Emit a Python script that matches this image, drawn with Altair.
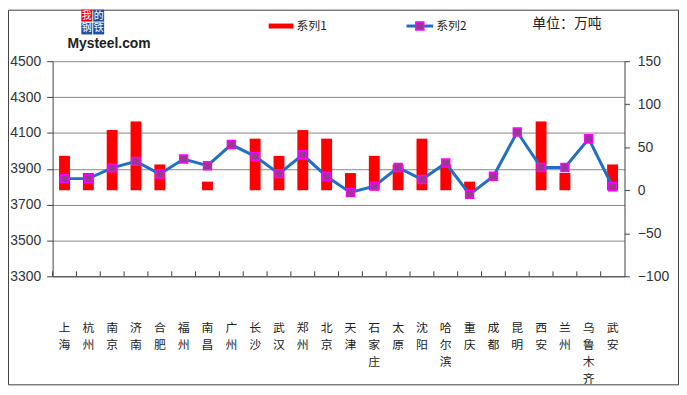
import altair as alt
import pandas as pd

cities = ["上海", "杭州", "南京", "济南", "合肥", "福州", "南昌", "广州", "长沙", "武汉",
          "郑州", "北京", "天津", "石家庄", "太原", "沈阳", "哈尔滨", "重庆", "成都", "昆明",
          "西安", "兰州", "乌鲁木齐", "武安"]
series1 = [40, 20, 70, 80, 30, 0, 10, 0, 60, 40,
           70, 60, 20, 40, 30, 60, 30, 10, 0, 0,
           80, 20, 0, 30]
series2 = [3845, 3845, 3905, 3941, 3871, 3954, 3917, 4035, 3969, 3873,
           3978, 3857, 3768, 3803, 3907, 3840, 3932, 3757, 3858, 4105,
           3907, 3907, 4067, 3800]
left_ticks = [3300, 3500, 3700, 3900, 4100, 4300, 4500]
right_ticks = [-100, -50, 0, 50, 100, 150]

df = pd.DataFrame({"city": cities, "s1": series1, "s2": series2})
one = pd.DataFrame({"a": [0]})

NUM_FONT = "Liberation Sans"
CJK_FONT = "Noto Sans CJK SC"

xenc = alt.X("city:N", sort=cities,
             scale=alt.Scale(paddingInner=0, paddingOuter=0),
             axis=alt.Axis(title=None, labelAngle=0, labelExpr="split(datum.label, '')",
                           ticks=False, domain=True, domainColor="#404040",
                           labelFont=CJK_FONT, labelFontSize=12, labelLineHeight=17,
                           labelColor="#222", labelPadding=47, labelBaseline="top"))

bars = alt.Chart(df).mark_bar(size=11, color="#ff0000").encode(
    x=xenc,
    y=alt.Y("s1:Q", scale=alt.Scale(domain=[-100, 150], nice=False, zero=False),
            axis=alt.Axis(orient="right", title=None, values=right_ticks, grid=False,
                          format="d", tickSize=5, tickColor="#404040",
                          domainColor="#404040",
                          labelFont=NUM_FONT, labelFontSize=14, labelColor="#333",
                          labelPadding=8)),
)

line = alt.Chart(df).mark_line(
    color="#1f6fc6", strokeWidth=3,
    point=alt.OverlayMarkDef(shape="square", size=64, filled=True, fill="#953a8f",
                             stroke="#ff00ff", strokeWidth=1.5, opacity=1),
).encode(
    x=alt.X("city:N", sort=cities),
    y=alt.Y("s2:Q", scale=alt.Scale(domain=[3300, 4500], nice=False, zero=False),
            axis=alt.Axis(orient="left", title=None, values=left_ticks, grid=True,
                          format="d", gridColor="#868686", gridWidth=1, tickSize=6,
                          tickColor="#404040", domainColor="#404040",
                          labelFont=NUM_FONT, labelFontSize=14, labelColor="#333",
                          labelPadding=6)),
)

xticks = alt.Chart(df).mark_rule(color="#404040", strokeWidth=1).encode(
    x=alt.X("city:N", sort=cities, bandPosition=0),
    y=alt.value(212), y2=alt.value(217),
)

border = alt.Chart(one).mark_rect(fill=None, stroke="#404040", strokeWidth=1).encode(
    x=alt.value(-44.5), x2=alt.value(631.5), y=alt.value(-51.5), y2=alt.value(326.5))

# legend
leg_rect = alt.Chart(one).mark_rect(color="#ff0000").encode(
    x=alt.value(218), x2=alt.value(243), y=alt.value(-38), y2=alt.value(-33))
leg_t1 = alt.Chart(one).mark_text(text="系列1", font=CJK_FONT, fontSize=12, align="left",
                                  baseline="middle", color="#222").encode(
    x=alt.value(246), y=alt.value(-35.5))
leg_line = alt.Chart(one).mark_rule(color="#1f6fc6", strokeWidth=3).encode(
    x=alt.value(357), x2=alt.value(384), y=alt.value(-35.5))
leg_pt = alt.Chart(one).mark_point(shape="square", size=64, filled=True, fill="#953a8f",
                                   stroke="#ff00ff", strokeWidth=1.5, opacity=1).encode(
    x=alt.value(370.5), y=alt.value(-35.5))
leg_t2 = alt.Chart(one).mark_text(text="系列2", font=CJK_FONT, fontSize=12, align="left",
                                  baseline="middle", color="#222").encode(
    x=alt.value(387), y=alt.value(-35.5))
unit = alt.Chart(one).mark_text(text="单位：万吨", font=CJK_FONT, fontSize=14, align="left",
                                baseline="middle", color="#222").encode(
    x=alt.value(484), y=alt.value(-38))

# logo
logo_layers = []
boxes = [("我", "#e60012", 29, -52), ("的", "#1f4fa8", 41, -52),
         ("钢", "#1f4fa8", 29, -39), ("铁", "#1f4fa8", 41, -39)]
for ch, col, bx, by in boxes:
    logo_layers.append(alt.Chart(one).mark_rect(color=col).encode(
        x=alt.value(bx), x2=alt.value(bx + 11), y=alt.value(by), y2=alt.value(by + 12)))
    logo_layers.append(alt.Chart(one).mark_text(text=ch, font=CJK_FONT, fontSize=10,
                                                color="white", align="center",
                                                baseline="middle").encode(
        x=alt.value(bx + 5.5), y=alt.value(by + 6)))
logo_layers.append(alt.Chart(one).mark_text(text="Mysteel.com", font=NUM_FONT, fontSize=14,
                                            fontWeight="bold", color="#222", align="left",
                                            baseline="alphabetic").encode(
    x=alt.value(15), y=alt.value(-13)))

main = alt.layer(bars, line).resolve_scale(y="independent")

chart = alt.layer(
    main, xticks, border, leg_rect, leg_t1, leg_line, leg_pt, leg_t2, unit, *logo_layers
).properties(
    width=577, height=217,
    autosize=alt.AutoSizeParams(type="none"),
    padding={"left": 45, "top": 52, "right": 55, "bottom": 110},
    background="white",
).configure_view(stroke=None)

chart.save("out.html", embed_options={"renderer": "svg", "actions": False})
